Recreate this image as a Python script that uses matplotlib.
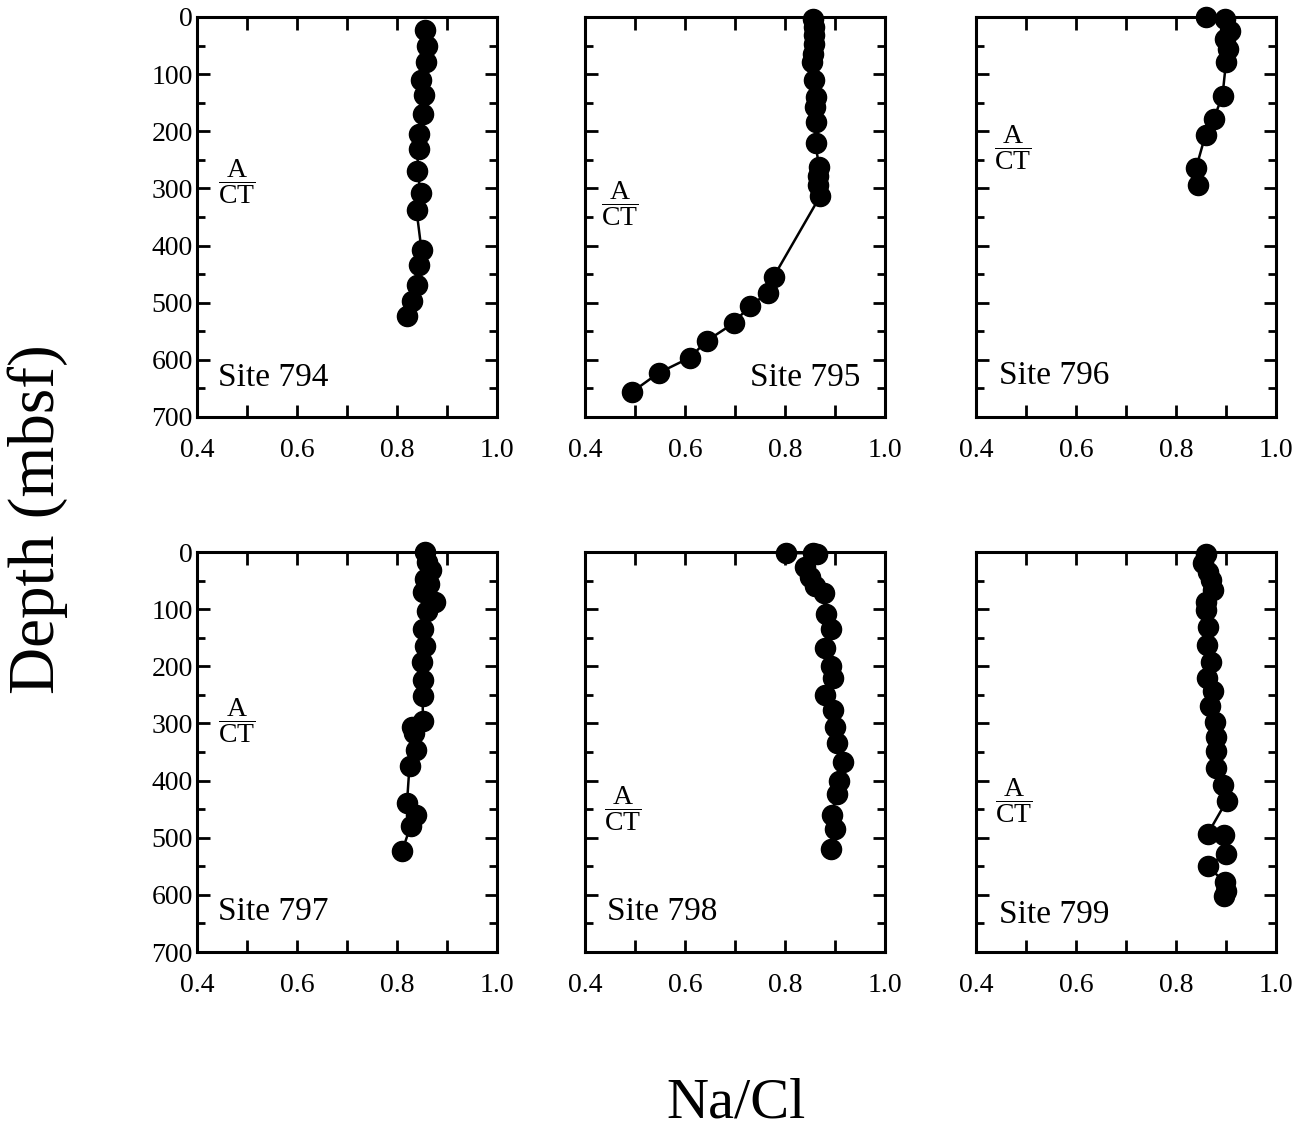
import matplotlib
matplotlib.use("Agg")
import matplotlib.pyplot as plt
from matplotlib.ticker import MultipleLocator, FixedLocator, FixedFormatter

plt.rcParams["font.family"] = ["Liberation Serif", "DejaVu Serif"]
plt.rcParams["mathtext.fontset"] = "custom"
plt.rcParams["mathtext.rm"] = "Liberation Serif"

# Site 794
nacl_794 = [0.855, 0.859, 0.857, 0.848, 0.853, 0.852, 0.843, 0.843, 0.840, 0.848,
            0.839, 0.849, 0.843, 0.840, 0.829, 0.820]
depth_794 = [23, 50, 79, 111, 136, 169, 204, 231, 269, 308, 338, 408, 434, 469, 497, 524]

# Site 795
nacl_795 = [0.855, 0.858, 0.858, 0.857, 0.855, 0.853, 0.857, 0.861, 0.859, 0.861,
            0.861, 0.868, 0.865, 0.865, 0.870, 0.777, 0.766, 0.729, 0.697, 0.643,
            0.610, 0.547, 0.493]
depth_795 = [3, 17, 32, 47, 64, 78, 110, 140, 158, 183, 221, 262, 279, 294, 314,
             455, 483, 506, 536, 567, 596, 623, 657]

# Site 796
nacl_796 = [0.860, 0.898, 0.907, 0.898, 0.903, 0.900, 0.893, 0.875, 0.859, 0.840, 0.843]
depth_796 = [0, 3, 24, 38, 56, 79, 138, 179, 206, 265, 294]

# Site 797
nacl_797 = [0.855, 0.860, 0.867, 0.856, 0.863, 0.852, 0.875, 0.860, 0.851, 0.855,
            0.849, 0.851, 0.851, 0.852, 0.830, 0.833, 0.837, 0.825, 0.820, 0.837,
            0.827, 0.810]
depth_797 = [0, 18, 32, 47, 56, 70, 88, 103, 135, 164, 192, 224, 252, 296, 306,
             316, 347, 374, 439, 460, 480, 524]

# Site 798
nacl_798 = [0.802, 0.855, 0.863, 0.840, 0.850, 0.859, 0.877, 0.881, 0.891, 0.879,
            0.891, 0.895, 0.880, 0.895, 0.900, 0.903, 0.915, 0.907, 0.903, 0.893,
            0.900, 0.891]
depth_798 = [2, 2, 3, 26, 44, 59, 71, 109, 135, 168, 200, 221, 250, 276, 306, 335,
             368, 400, 424, 460, 485, 520]

# Site 799
nacl_799 = [0.859, 0.853, 0.863, 0.869, 0.873, 0.860, 0.860, 0.863, 0.861, 0.869,
            0.862, 0.873, 0.867, 0.878, 0.880, 0.880, 0.880, 0.893, 0.901, 0.863,
            0.895, 0.899, 0.863, 0.897, 0.899, 0.895]
depth_799 = [3, 20, 35, 49, 67, 87, 102, 131, 163, 192, 221, 244, 270, 297, 323,
             349, 378, 407, 436, 494, 496, 529, 549, 578, 593, 602]

sites = ["794", "795", "796", "797", "798", "799"]
nacl = [nacl_794, nacl_795, nacl_796, nacl_797, nacl_798, nacl_799]
depths = [depth_794, depth_795, depth_796, depth_797, depth_798, depth_799]

# A/CT boundary (x, depth) and site label (x, depth) for each panel
act_pos = [(0.48, 288), (0.47, 326), (0.474, 228), (0.48, 296), (0.476, 449), (0.476, 435)]
site_pos = [(0.442, 632), (0.73, 632), (0.446, 628), (0.442, 630), (0.444, 630), (0.446, 634)]

W, H = 1312, 1131
fig = plt.figure(figsize=(W / 100, H / 100), dpi=100)

lefts = [197, 585, 976]
tops = [17, 552]

for i in range(6):
    r, c = divmod(i, 3)
    ax = fig.add_axes([lefts[c] / W, 1 - (tops[r] + 400) / H, 300 / W, 400 / H])
    ax.plot(nacl[i], depths[i], color="black", lw=1.8, marker="o", ms=14.5,
            clip_on=False, zorder=3)
    ax.set_xlim(0.4, 1.0)
    ax.set_ylim(700, 0)

    xt = [0.4, 0.5, 0.6, 0.7, 0.8, 0.9, 1.0]
    ax.xaxis.set_major_locator(FixedLocator(xt))
    ax.xaxis.set_major_formatter(FixedFormatter(["0.4", "", "0.6", "", "0.8", "", "1.0"]))
    ax.yaxis.set_major_locator(MultipleLocator(100))
    ax.yaxis.set_minor_locator(MultipleLocator(50))
    ax.tick_params(which="both", direction="in", top=True, right=True, width=2)
    ax.tick_params(which="major", length=9)
    ax.tick_params(which="minor", length=6)
    ax.tick_params(axis="x", labelsize=20, pad=15)
    ax.tick_params(axis="y", labelsize=20, pad=3)
    if c != 0:
        ax.set_yticklabels([])
    for s in ax.spines.values():
        s.set_linewidth(2.2)

    ax.text(act_pos[i][0], act_pos[i][1], r"$\dfrac{\mathrm{A}}{\mathrm{CT}}$",
            fontsize=20, ha="center", va="center")
    ax.text(site_pos[i][0], site_pos[i][1], "Site " + sites[i],
            fontsize=24, ha="left", va="center")

fig.text(38 / W, 1 - 519 / H, "Depth (mbsf)", rotation=90, fontsize=47,
         ha="center", va="center")
fig.text(736 / W, 1 - 1103 / H, "Na/Cl", fontsize=42, ha="center", va="center")

fig.savefig("out.png", dpi=100)
